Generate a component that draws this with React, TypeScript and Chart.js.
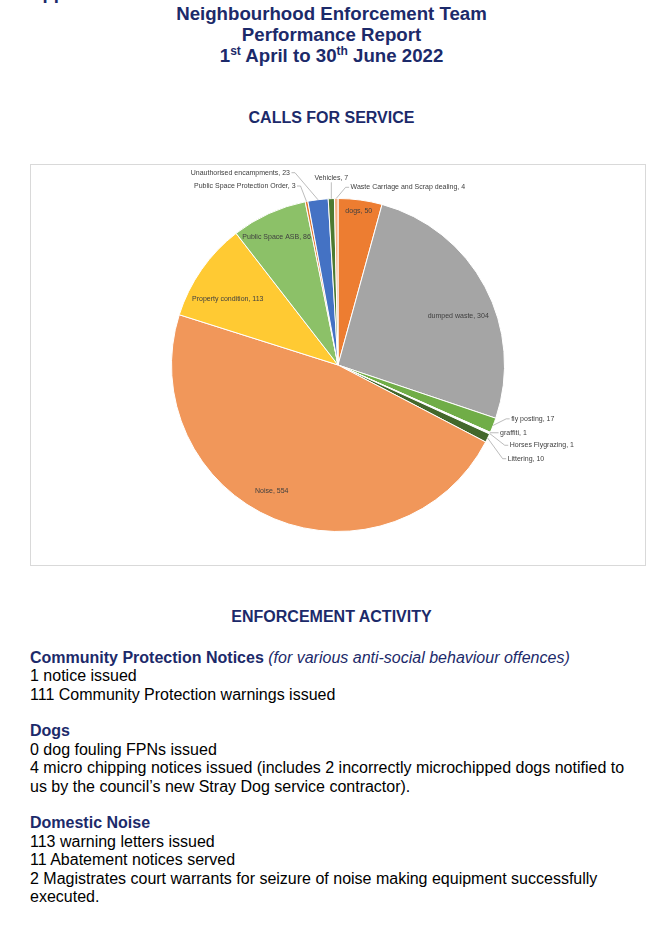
import React, { useEffect, useRef } from 'react';
import { Chart, registerables } from 'chart.js';

Chart.register(...registerables);

// ---- data ----
const categories = [
  'dogs',
  'dumped waste',
  'fly posting',
  'graffiti',
  'Horses Flygrazing',
  'Littering',
  'Noise',
  'Property condition',
  'Public Space ASB',
  'Public Space Protection Order',
  'Unauthorised encampments',
  'Vehicles',
  'Waste Carriage and Scrap dealing',
];
const callsForService = [50, 304, 17, 1, 1, 10, 554, 113, 86, 3, 23, 7, 4];
const sliceColours = [
  '#ED7D31',
  '#A5A5A5',
  '#70AD47',
  '#E6EEF8',
  '#EFEFEF',
  '#43682B',
  '#F1975A',
  '#FFCA33',
  '#8CC168',
  '#E2772E',
  '#4472C4',
  '#4E7A30',
  '#F4B183',
];

// ---- label layout (styling only) ----
type InLabel = { kind: 'in'; frac: number; turn: number };
type OutLabel = { kind: 'out'; dx: number; dy: number; align: 'left' | 'right' | 'center' };
const labelLayout: Record<string, InLabel | OutLabel> = {
  'dogs': { kind: 'in', frac: 0.935, turn: 0 },
  'dumped waste': { kind: 'in', frac: 0.78, turn: 5.8 },
  'Noise': { kind: 'in', frac: 0.854, turn: 5.2 },
  'Property condition': { kind: 'in', frac: 0.77, turn: -4.2 },
  'Public Space ASB': { kind: 'in', frac: 0.855, turn: -1 },
  'fly posting': { kind: 'out', dx: 18, dy: -6.5, align: 'left' },
  'graffiti': { kind: 'out', dx: 10, dy: 0, align: 'left' },
  'Horses Flygrazing': { kind: 'out', dx: 20, dy: 11.7, align: 'left' },
  'Littering': { kind: 'out', dx: 20, dy: 20.7, align: 'left' },
  'Public Space Protection Order': { kind: 'out', dx: -11, dy: -15.5, align: 'right' },
  'Unauthorised encampments': { kind: 'out', dx: -28, dy: -27, align: 'right' },
  'Vehicles': { kind: 'out', dx: 0, dy: -20.3, align: 'center' },
  'Waste Carriage and Scrap dealing': { kind: 'out', dx: 14.4, dy: -11.2, align: 'left' },
};

const NAVY = '#1C2A6A';

const dataLabelPlugin = {
  id: 'excelDataLabels',
  afterDatasetsDraw(chart: any) {
    const ctx = chart.ctx as CanvasRenderingContext2D;
    const meta = chart.getDatasetMeta(0);
    const labels = chart.data.labels as string[];
    const values = chart.data.datasets[0].data as number[];
    ctx.save();
    ctx.font = '7px "Liberation Sans", Arial, sans-serif';
    ctx.fillStyle = '#404040';
    ctx.textBaseline = 'middle';
    meta.data.forEach((arc: any, i: number) => {
      const name = labels[i];
      const text = `${name}, ${values[i]}`;
      const lay = labelLayout[name];
      if (!lay) return;
      const mid = (arc.startAngle + arc.endAngle) / 2;
      const R = arc.outerRadius;
      if (lay.kind === 'in') {
        const a = mid + (lay.turn * Math.PI) / 180;
        const x = arc.x + Math.cos(a) * R * lay.frac;
        const y = arc.y + Math.sin(a) * R * lay.frac;
        ctx.textAlign = 'center';
        ctx.fillText(text, x, y);
        return;
      }
      const px = arc.x + Math.cos(mid) * R;
      const py = arc.y + Math.sin(mid) * R;
      const lx = px + lay.dx;
      const ly = py + lay.dy;
      ctx.strokeStyle = '#A6A6A6';
      ctx.lineWidth = 0.75;
      ctx.beginPath();
      if (lay.align === 'left') {
        ctx.moveTo(lx - 1.5, ly);
        if (Math.abs(lay.dy) > 1) {
          ctx.lineTo(lx - 5, ly);
        }
        ctx.lineTo(px, py);
        ctx.textAlign = 'left';
      } else if (lay.align === 'right') {
        ctx.moveTo(lx + 1.5, ly);
        ctx.lineTo(lx + 5, ly);
        ctx.lineTo(px, py);
        ctx.textAlign = 'right';
      } else {
        ctx.moveTo(lx, ly + 4);
        ctx.lineTo(px, py);
        ctx.textAlign = 'center';
      }
      ctx.stroke();
      ctx.fillText(text, lx, ly);
    });
    ctx.restore();
  },
};

function PieChart() {
  const ref = useRef<HTMLCanvasElement | null>(null);
  useEffect(() => {
    if (!ref.current) return;
    const chart = new Chart(ref.current, {
      type: 'pie',
      data: {
        labels: categories,
        datasets: [
          {
            data: callsForService,
            backgroundColor: sliceColours,
            borderColor: '#FFFFFF',
            borderWidth: 1,
          },
        ],
      },
      options: {
        animation: false,
        responsive: false,
        maintainAspectRatio: false,
        layout: { padding: { left: 140, right: 140, top: 33, bottom: 33 } },
        plugins: {
          legend: { display: false },
          tooltip: { enabled: false },
        },
      },
      plugins: [dataLabelPlugin],
    });
    return () => chart.destroy();
  }, []);
  return <canvas ref={ref} width={614} height={400} style={{ display: 'block' }} />;
}

export default function App() {
  const page: React.CSSProperties = {
    position: 'absolute',
    left: 0,
    top: 0,
    width: 657,
    height: 943,
    overflow: 'hidden',
    background: '#FFFFFF',
    fontFamily: '"Liberation Sans", Arial, sans-serif',
  };
  const heading: React.CSSProperties = { color: NAVY, fontWeight: 'bold' };
  return (
    <div style={page}>
      <div
        style={{
          position: 'absolute',
          left: 29,
          top: -18,
          fontSize: 18.67,
          lineHeight: '21px',
          fontWeight: 'bold',
          color: NAVY,
          whiteSpace: 'nowrap',
        }}
      >
        Appendix
      </div>
      <div
        style={{
          position: 'absolute',
          left: 0,
          top: 2.5,
          width: 663,
          textAlign: 'center',
          fontSize: 18.67,
          lineHeight: '21px',
          fontWeight: 'bold',
          color: NAVY,
        }}
      >
        Neighbourhood Enforcement Team
        <br />
        Performance Report
        <br />
        1<sup style={{ fontSize: 12, lineHeight: 0 }}>st</sup> April to 30
        <sup style={{ fontSize: 12, lineHeight: 0 }}>th</sup> June 2022
      </div>
      <div
        style={{
          position: 'absolute',
          left: 0,
          top: 108.8,
          width: 663,
          textAlign: 'center',
          fontSize: 16,
          lineHeight: '18.4px',
          ...heading,
        }}
      >
        CALLS FOR SERVICE
      </div>
      <div
        style={{
          position: 'absolute',
          left: 30,
          top: 164,
          width: 614,
          height: 400,
          border: '1px solid #D9D9D9',
        }}
      >
        <PieChart />
      </div>
      <div
        style={{
          position: 'absolute',
          left: 0,
          top: 607.8,
          width: 663,
          textAlign: 'center',
          fontSize: 16,
          lineHeight: '18.4px',
          ...heading,
        }}
      >
        ENFORCEMENT ACTIVITY
      </div>
      <div
        style={{
          position: 'absolute',
          left: 30,
          top: 648.8,
          fontSize: 16,
          lineHeight: '18.4px',
          color: '#000000',
          whiteSpace: 'nowrap',
        }}
      >
        <span style={heading}>Community Protection Notices</span>{' '}
        <span style={{ color: NAVY, fontStyle: 'italic' }}>(for various anti-social behaviour offences)</span>
        <br />
        1 notice issued
        <br />
        111 Community Protection warnings issued
        <br />
        <br />
        <span style={heading}>Dogs</span>
        <br />
        0 dog fouling FPNs issued
        <br />
        4 micro chipping notices issued (includes 2 incorrectly microchipped dogs notified to
        <br />
        us by the council’s new Stray Dog service contractor).
        <br />
        <br />
        <span style={heading}>Domestic Noise</span>
        <br />
        113 warning letters issued
        <br />
        11 Abatement notices served
        <br />
        2 Magistrates court warrants for seizure of noise making equipment successfully
        <br />
        executed.
      </div>
    </div>
  );
}
